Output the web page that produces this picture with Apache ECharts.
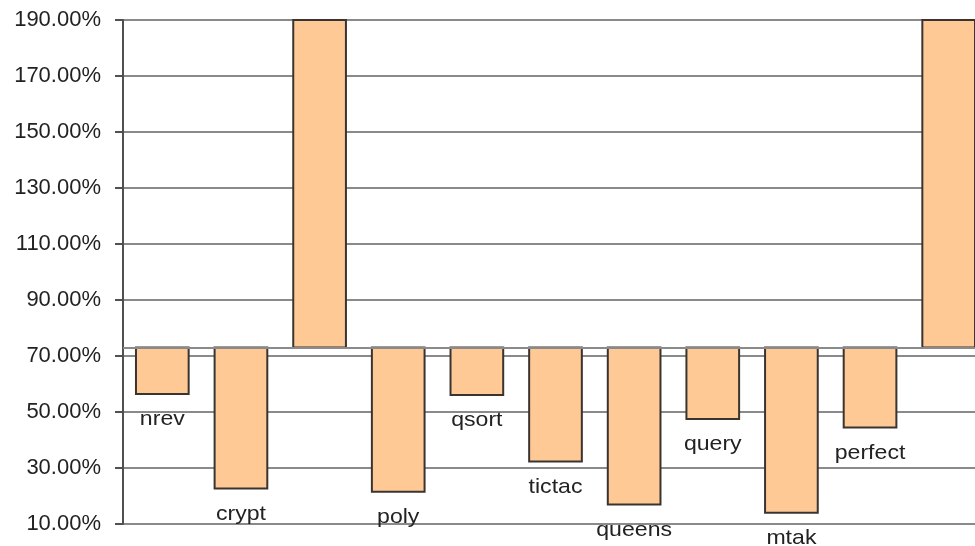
<!DOCTYPE html>
<html>
<head>
<meta charset="utf-8">
<script src="https://cdn.jsdelivr.net/npm/echarts@6/dist/echarts.min.js"></script>
<style>
  html, body { margin: 0; padding: 0; background: #fff; }
  #chart { width: 975px; height: 546px; }
</style>
</head>
<body>
<div id="chart"></div>
<script>
// Benchmark names (the two tallest runs carry no caption)
const categories = ['nrev', 'crypt', '', 'poly', 'qsort', 'tictac', 'queens', 'query', 'mtak', 'perfect', ''];
// Relative performance, in percent
const values = [56.4, 22.7, 230, 21.5, 56.1, 32.3, 17.0, 47.5, 14.0, 44.5, 230];
// Bars grow up or down from this reference level
const BASELINE = 73;
// Value axis range and tick step
const yMin = 10, yMax = 190, yStep = 20;

const FONT = 'Liberation Sans';
const FONT_SIZE = 21;
const chart = echarts.init(document.getElementById('chart'));

chart.setOption({
  animation: false,
  backgroundColor: '#fff',
  // the plot area runs past the right edge of the canvas
  grid: { left: 123, top: 20, height: 504, width: 865, outerBoundsMode: 'none', containLabel: false },
  xAxis: {
    type: 'category',
    data: categories,
    boundaryGap: true,
    axisLine: { show: false },
    axisTick: { show: false },
    axisLabel: { show: false },
    splitLine: { show: false }
  },
  yAxis: {
    type: 'value',
    min: yMin,
    max: yMax,
    interval: yStep,
    axisLine: { show: true, lineStyle: { color: '#505050', width: 2 } },
    axisTick: { show: true, length: 8, lineStyle: { color: '#505050', width: 2 } },
    axisLabel: {
      margin: 22,
      color: '#222',
      fontFamily: FONT,
      fontSize: 22,
      formatter: v => v.toFixed(2) + '%'
    },
    splitLine: { show: true, lineStyle: { color: '#8a8a8a', width: 2 } }
  },
  series: [{
    type: 'custom',
    data: values.map((v, i) => [i, v]),
    renderItem(params, api) {
      const i = api.value(0);
      const v = api.value(1);
      const base = api.coord([i, BASELINE]);
      const end = api.coord([i, v]);
      const w = api.size([1, 0])[0] * 0.67;
      const cs = params.coordSys;
      const y0 = Math.min(base[1], end[1]);
      const y1 = Math.max(base[1], end[1]);
      const rect = echarts.graphic.clipRectByRect(
        { x: base[0] - w / 2, y: y0, width: w, height: y1 - y0 },
        { x: cs.x, y: cs.y, width: cs.width, height: cs.height }
      );
      const children = [];
      if (rect) {
        children.push({
          type: 'rect',
          shape: rect,
          style: { fill: '#ffc996', stroke: '#3a3430', lineWidth: 2 }
        });
      }
      const name = categories[i];
      if (name && v < BASELINE) {
        children.push({
          type: 'text',
          x: base[0],
          y: end[1] + 15,
          scaleX: 1.1,
          style: {
            text: name,
            x: 0,
            y: 0,
            align: 'center',
            verticalAlign: 'top',
            font: FONT_SIZE + 'px "' + FONT + '"',
            fill: '#222'
          }
        });
      }
      return { type: 'group', children };
    },
    markLine: {
      silent: true,
      symbol: 'none',
      label: { show: false },
      lineStyle: { color: '#8a8a8a', width: 2, type: 'solid' },
      data: [{ yAxis: BASELINE }]
    }
  }]
});
</script>
</body>
</html>
